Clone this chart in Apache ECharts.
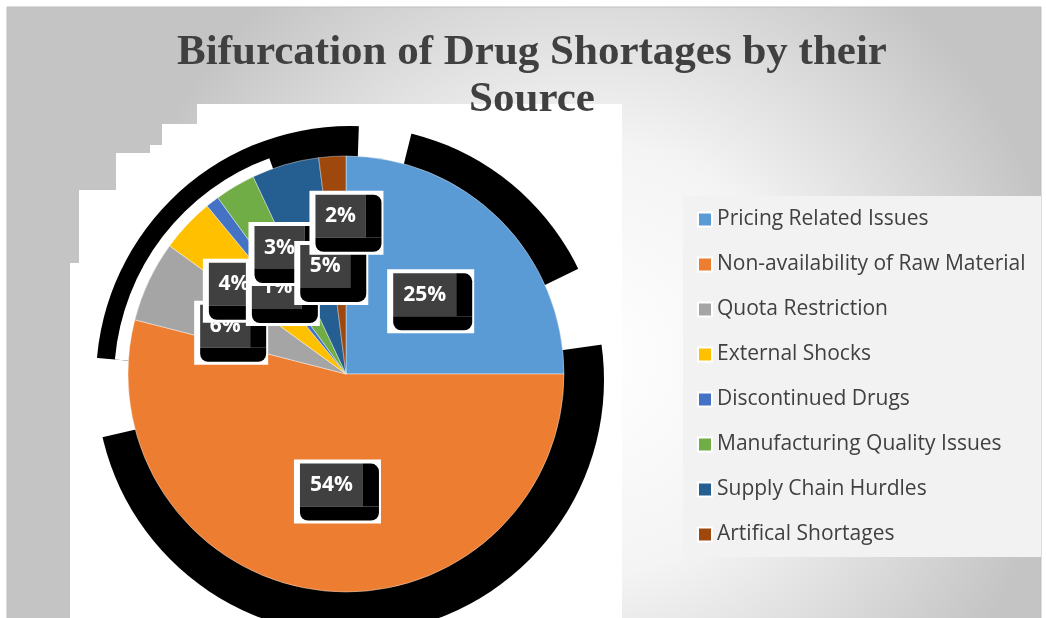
<!DOCTYPE html>
<html>
<head>
<meta charset="utf-8">
<script src="https://cdn.jsdelivr.net/npm/echarts@6/dist/echarts.min.js"></script>
<style>
html,body{margin:0;padding:0;background:#fff;}
#chart{width:1046px;height:618px;}
</style>
</head>
<body>
<div id="chart"></div>
<script>
// ---- data ----
const categories = [
  'Pricing Related Issues',
  'Non-availability of Raw Material',
  'Quota Restriction',
  'External Shocks',
  'Discontinued Drugs',
  'Manufacturing Quality Issues',
  'Supply Chain Hurdles',
  'Artifical Shortages'
];
const values = [25, 54, 6, 4, 1, 3, 5, 2];
const colors = ['#5B9BD5', '#ED7D31', '#A5A5A5', '#FFC000', '#4472C4', '#70AD47', '#255E91', '#9E480E'];
const titleLines = ['Bifurcation of Drug Shortages by their', 'Source'];

// label nudges (layout only), in px relative to default inside position
const labelNudge = [[0,0],[0,0],[-19,0],[-30,-13],[0,2],[-9,-30],[11,0],[2,-46]];
// labels drawn in a top layer (stacking order as in the original)
const topLayerLabels = [4, 5, 6, 7];

const deg = Math.PI / 180;
const chart = echarts.init(document.getElementById('chart'), null, {renderer: 'canvas'});

function gapSector(a0, a1, r0, r) {
  return {
    type: 'sector', z: -8,
    shape: {cx: 350, cy: 380, r0: r0 || 0, r: r || 262, startAngle: a0 * deg, endAngle: a1 * deg, clockwise: true},
    style: {fill: '#ffffff'}
  };
}

const labelStyle = {
  show: true,
  position: 'inside',
  formatter: function (p) {
    const t = p.value + '%';
    const k = t.length > 2 ? '3' : '2';
    return '{v' + k + '|' + t + '}{r| }\n{b' + k + '| }';
  },
  backgroundColor: '#ffffff',
  padding: [4, 2, 3, 6],
  rich: {
    v3: {
      fontFamily: 'Open Sans', fontWeight: 'bold', fontSize: 21, color: '#ffffff',
      width: 63, height: 43, lineHeight: 43, align: 'center', backgroundColor: '#404040'
    },
    v2: {
      fontFamily: 'Open Sans', fontWeight: 'bold', fontSize: 21, color: '#ffffff',
      width: 50, height: 43, lineHeight: 43, align: 'center', backgroundColor: '#404040'
    },
    r: {width: 16, height: 43, lineHeight: 43, fontSize: 4, backgroundColor: '#000000', borderRadius: [0, 8, 0, 0]},
    b3: {width: 79, height: 14, lineHeight: 14, fontSize: 4, backgroundColor: '#000000', borderRadius: [0, 0, 8, 8]},
    b2: {width: 66, height: 14, lineHeight: 14, fontSize: 4, backgroundColor: '#000000', borderRadius: [0, 0, 8, 8]}
  }
};

function layoutFn(p) {
  const n = labelNudge[p.dataIndex] || [0, 0];
  return {dx: 5.5 + n[0], dy: 6.5 + n[1]};
}

function pieSeries(showLabel, transparent, z) {
  return {
    type: 'pie',
    z: z,
    center: [346, 374],
    radius: [0, 218],
    startAngle: 90,
    clockwise: true,
    avoidLabelOverlap: false,
    silent: true,
    itemStyle: transparent ? {color: 'rgba(0,0,0,0)', borderWidth: 0} : {borderColor: '#ffffff', borderWidth: 0.4},
    label: labelStyle,
    labelLine: {show: false},
    labelLayout: layoutFn,
    data: categories.map((name, i) => ({
      name: name,
      value: values[i],
      label: {show: showLabel(i)}
    }))
  };
}

const option = {
  animation: false,
  backgroundColor: '#ffffff',
  graphic: [
    {
      type: 'rect', z: -10,
      shape: {x: 7, y: 7, width: 1034, height: 640},
      style: {
        fill: {
          type: 'radial', x: 0.56, y: 0.55, r: 0.75,
          colorStops: [{offset: 0, color: '#ffffff'}, {offset: 0.45, color: '#f4f4f4'}, {offset: 1, color: '#c4c4c4'}]
        },
        stroke: '#bdbdbd', lineWidth: 1
      }
    },
    {
      type: 'polygon', z: -9,
      shape: {points: [[197,104],[622,104],[622,640],[70,640],[70,263],[79,263],[79,190],[116,190],[116,153],[150,153],[150,145],[162,145],[162,124],[197,124]]},
      style: {fill: '#ffffff'}
    },
    {
      type: 'circle', z: -8,
      shape: {cx: 350, cy: 380, r: 254},
      style: {fill: '#000000'}
    },
    gapSector(-26, -8),
    gapSector(167, 185),
    gapSector(-88, -76),
    gapSector(185, 250, 0, 236),
    {
      type: 'rect', z: -7,
      shape: {x: 683, y: 196, width: 358, height: 361},
      style: {fill: '#f2f2f2'}
    },
    {
      type: 'text', z: 5,
      x: 532, y: 53,
      style: {text: titleLines[0], font: 'bold 43px "Liberation Serif"', fill: '#404040', align: 'center', verticalAlign: 'middle'}
    },
    {
      type: 'text', z: 5,
      x: 532, y: 100,
      style: {text: titleLines[1], font: 'bold 43px "Liberation Serif"', fill: '#404040', align: 'center', verticalAlign: 'middle'}
    }
  ],
  color: colors,
  legend: {
    orient: 'vertical',
    left: 697,
    top: 209,
    padding: 0,
    itemWidth: 14,
    itemHeight: 14,
    itemGap: 24,
    icon: 'rect',
    selectedMode: false,
    data: categories,
    textStyle: {fontFamily: 'Open Sans', fontSize: 21, color: '#404040', lineHeight: 20}
  },
  series: [
    pieSeries(i => topLayerLabels.indexOf(i) < 0, false, 2),
    pieSeries(i => topLayerLabels.indexOf(i) >= 0, true, 3)
  ]
};
chart.setOption(option);
</script>
</body>
</html>
